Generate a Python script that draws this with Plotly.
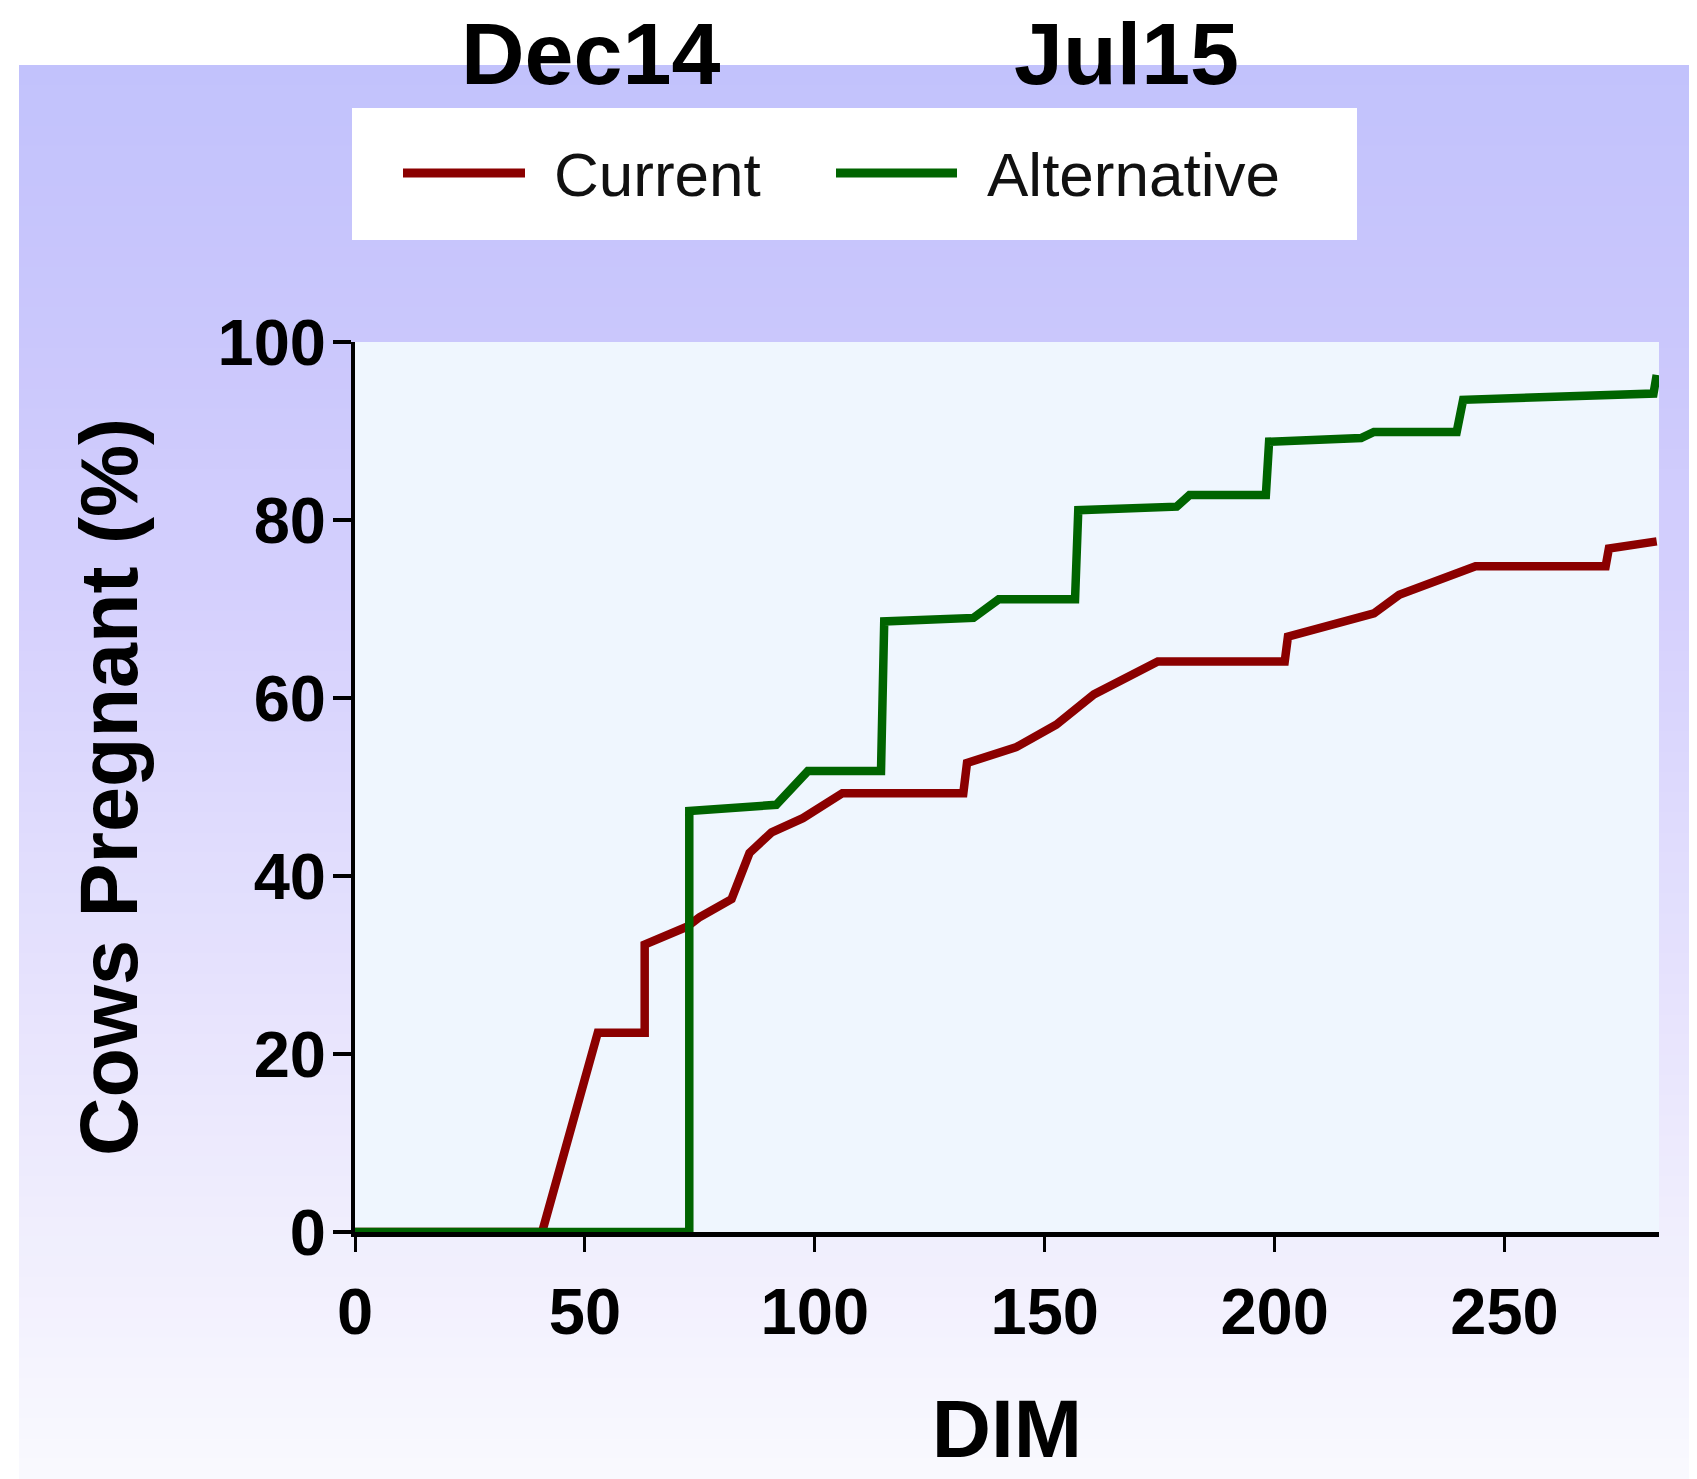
import plotly.graph_objects as go

# ---- data ----
current_dim = [0, 40.7, 52.8, 63.0, 63.0, 72.2, 75.0, 81.9, 85.8, 90.6, 97.4, 106.0,
               132.3, 133.1, 143.9, 152.5, 160.7, 174.6, 202.2, 202.9, 221.6, 227.1,
               243.7, 272.0, 272.7, 283.1]
current_pct = [0, 0, 22.4, 22.4, 32.3, 34.3, 35.4, 37.4, 42.6, 44.9, 46.5, 49.3,
               49.3, 52.7, 54.5, 57.0, 60.4, 64.1, 64.1, 66.9, 69.5, 71.6,
               74.8, 74.8, 76.8, 77.6]

alt_dim = [0, 72.7, 72.7, 91.6, 98.5, 114.4, 115.1, 134.5, 140.0, 156.6, 157.3,
           178.7, 181.5, 198.1, 198.8, 218.8, 221.6, 239.6, 241.0, 282.4, 283.1]
alt_pct = [0, 0, 47.3, 48.0, 51.8, 51.8, 68.6, 69.0, 71.1, 71.1, 81.1,
           81.5, 82.8, 82.8, 88.8, 89.2, 89.9, 89.9, 93.5, 94.2, 96.3]

series_names = ["Current", "Alternative"]
series_colors = ["#8b0000", "#006400"]
x_ticks = [0, 50, 100, 150, 200, 250]
y_ticks = [0, 20, 40, 60, 80, 100]
header_labels = ["Dec14", "Jul15"]

# ---- layout geometry (pixels in the page; the page body adds an 8px offset) ----
OFF = 8
W, H = 1697 - OFF, 1479 - OFF
L, R, T, B = 355 - OFF, 1659 - OFF, 342 - OFF, 1232 - OFF


def px(x):
    return (x - OFF - L) / (R - L)


def py(y):
    return (B - (y - OFF)) / (B - T)


FONT = "Liberation Sans, Arial, Helvetica, sans-serif"

fig = go.Figure()
fig.add_trace(go.Scatter(x=current_dim, y=current_pct, mode="lines",
                         name=series_names[0],
                         line=dict(color=series_colors[0], width=8.5)))
fig.add_trace(go.Scatter(x=alt_dim, y=alt_pct, mode="lines",
                         name=series_names[1],
                         line=dict(color=series_colors[1], width=8.5)))

# ---- background gradient bands ----
stops = [(65, (194, 194, 252)), (340, (202, 199, 252)), (600, (213, 208, 253)),
         (1100, (235, 232, 253)), (1479, (249, 249, 254))]


def color_at(yp):
    for (y0, c0), (y1, c1) in zip(stops[:-1], stops[1:]):
        if y0 <= yp <= y1:
            t = (yp - y0) / (y1 - y0)
            return "rgb(%d,%d,%d)" % tuple(round(a + (b - a) * t) for a, b in zip(c0, c1))
    return "rgb(%d,%d,%d)" % stops[-1][1]


shapes = []
nb = 70
top, bot = 65, 1479
step = (bot - top) / nb
for i in range(nb):
    y0 = top + i * step
    y1 = y0 + step + 1
    shapes.append(dict(type="rect", xref="paper", yref="paper",
                       x0=px(19), x1=px(1697 + 2), y0=py(min(y1, bot)), y1=py(y0),
                       fillcolor=color_at(y0 + step / 2), line=dict(width=0),
                       layer="below"))
# plot area
shapes.append(dict(type="rect", xref="paper", yref="paper", x0=0, x1=1, y0=0, y1=1,
                   fillcolor="#eff6fe", line=dict(width=0), layer="below"))
# legend box
shapes.append(dict(type="rect", xref="paper", yref="paper",
                   x0=px(352), x1=px(1357), y0=py(240), y1=py(108),
                   fillcolor="white", line=dict(width=0), layer="below"))
# legend line samples
leg_lines = [(403, 525), (836, 957)]
for (a, b), c in zip(leg_lines, series_colors):
    shapes.append(dict(type="line", xref="paper", yref="paper",
                       x0=px(a), x1=px(b), y0=py(173), y1=py(173),
                       line=dict(color=c, width=9), layer="above"))

annotations = []
leg_text_x = [552, 985]
for name, x in zip(series_names, leg_text_x):
    annotations.append(dict(text=name, xref="paper", yref="paper",
                            x=px(x), y=py(174), xanchor="left", yanchor="middle",
                            showarrow=False,
                            font=dict(family=FONT, size=62, color="#111111")))
head_x = [590, 1126]
for lab, x in zip(header_labels, head_x):
    annotations.append(dict(text="<b>%s</b>" % lab, xref="paper", yref="paper",
                            x=px(x), y=py(53), xanchor="center", yanchor="middle",
                            showarrow=False,
                            font=dict(family=FONT, size=88, color="black")))

fig.update_layout(
    width=W, height=H,
    margin=dict(l=L, r=W - R, t=T, b=H - B, autoexpand=False),
    paper_bgcolor="white",
    plot_bgcolor="#eff6fe",
    showlegend=False,
    shapes=shapes,
    annotations=annotations,
    font=dict(family=FONT, color="black"),
)

fig.update_xaxes(
    range=[0, 283.6], tickvals=x_ticks, ticktext=[str(v) for v in x_ticks],
    ticks="outside", ticklen=15, tickwidth=3, tickcolor="black",
    showline=True, linecolor="black", linewidth=5,
    showgrid=False, zeroline=False, automargin=False,
    tickfont=dict(family=FONT, size=65, color="black", weight="bold"),
    ticklabelstandoff=4,
    title=dict(text="<b>DIM</b>", font=dict(family=FONT, size=82, color="black"),
               standoff=54),
)
fig.update_yaxes(
    range=[0, 100], tickvals=y_ticks, ticktext=[str(v) for v in y_ticks],
    ticks="outside", ticklen=18, tickwidth=4, tickcolor="black",
    showline=True, linecolor="black", linewidth=4,
    showgrid=False, zeroline=False, automargin=False,
    tickfont=dict(family=FONT, size=65, color="black", weight="bold"),
    ticklabelstandoff=-6,
    title=dict(text="<b>Cows Pregnant (%)</b>",
               font=dict(family=FONT, size=81, color="black"), standoff=54),
)

fig.write_html("out.html")
